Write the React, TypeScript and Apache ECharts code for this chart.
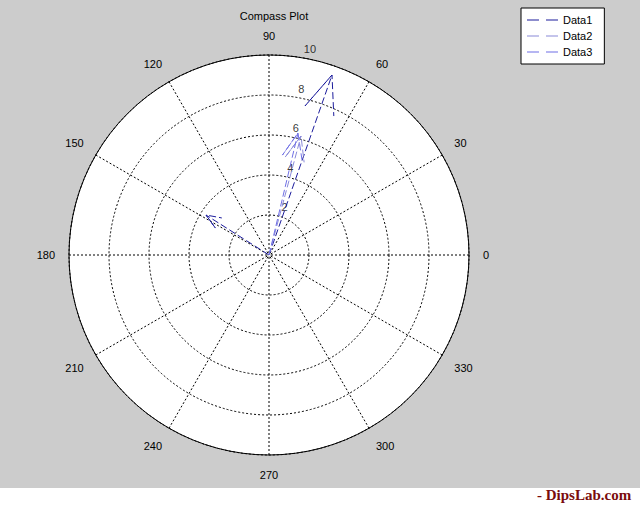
import React, { useEffect, useRef } from "react";
import * as echarts from "echarts";

// Compass vectors (real / imaginary parts)
const data1X = [3.15, -3.15];
const data1Y = [9.0, 2.0];
const data2X = [1.6];
const data2Y = [5.95];
const data3X = [1.45];
const data3Y = [6.1];

const seriesNames = ["Data1", "Data2", "Data3"];
const seriesColors = ["#1c1c9c", "#8a8ad8", "#6f6fe6"];

const angleTicks = [0, 30, 60, 90, 120, 150, 180, 210, 240, 270, 300, 330];
const radiusTicks = [2, 4, 6, 8, 10];
const radiusLabelAngle = 82;

// MATLAB compass arrow shape (relative to the vector)
const arrowShape: [number, number][] = [
  [0, 0],
  [1, 0],
  [0.8, 0.08],
  [1, 0],
  [0.8, -0.08],
];

function arrowPolar(x: number, y: number): [number, number][] {
  return arrowShape.map(([a, b]) => {
    const px = a * x - b * y;
    const py = a * y + b * x;
    const r = Math.hypot(px, py);
    const th = ((Math.atan2(py, px) * 180) / Math.PI + 360) % 360;
    return [r, th];
  });
}

export default function App() {
  const ref = useRef<HTMLDivElement>(null);
  useEffect(() => {
    if (!ref.current) return;
    const chart = echarts.init(ref.current, undefined, { renderer: "svg" });
    const font = "'Liberation Sans', Arial, sans-serif";
    const sets = [
      { xs: data1X, ys: data1Y },
      { xs: data2X, ys: data2Y },
      { xs: data3X, ys: data3Y },
    ];
    const arrowSeries: any[] = [];
    sets.forEach((s, i) => {
      s.xs.forEach((x, j) => {
        arrowSeries.push({
          type: "line",
          name: seriesNames[i],
          coordinateSystem: "polar",
          polarIndex: 0,
          symbol: "none",
          color: seriesColors[i],
          lineStyle: { color: seriesColors[i], width: 1, type: [7, 3] },
          data: arrowPolar(x, s.ys[j]),
          silent: true,
          z: 5 + i,
        });
      });
    });

    const dashIcon = "path://M0,0h12v1h-12zM19,0h12v1h-12z";

    chart.setOption({
      animation: false,
      backgroundColor: "#cccccc",
      textStyle: { fontFamily: font },
      title: {
        text: "Compass Plot",
        left: 269,
        top: 5,
        textAlign: "center",
        textStyle: { fontSize: 11, fontWeight: "normal", color: "#000", fontFamily: font },
      },
      legend: {
        data: seriesNames.map((n) => ({ name: n, icon: dashIcon })),
        orient: "vertical",
        left: 521,
        top: 8,
        padding: [6, 12, 6, 6],
        itemGap: 4,
        itemWidth: 31,
        itemHeight: 1.3,
        backgroundColor: "#ffffff",
        borderColor: "#000000",
        borderWidth: 1,
        borderRadius: 0,
        textStyle: { fontSize: 11, color: "#000", fontFamily: font, lineHeight: 12 },
      },
      polar: [
        { center: [269, 255], radius: 200 },
        { center: [269, 255], radius: 200 },
      ],
      angleAxis: [
        {
          polarIndex: 0,
          type: "value",
          min: 0,
          max: 360,
          interval: 30,
          startAngle: 0,
          clockwise: false,
          z: 3,
          axisLine: { show: true, lineStyle: { color: "#000", width: 1 } },
          axisTick: { show: false },
          axisLabel: {
            show: true,
            margin: 14,
            color: "#000",
            fontSize: 11,
            fontFamily: font,
            formatter: (v: number) => (angleTicks.includes(v) ? String(v) : ""),
          },
          splitLine: { show: true, lineStyle: { color: "#000", width: 1, type: [2, 2] } },
        },
        {
          polarIndex: 1,
          type: "value",
          min: 0,
          max: 360,
          interval: 30,
          startAngle: 0,
          clockwise: false,
          z: 0,
          silent: true,
          axisLine: { show: false },
          axisTick: { show: false },
          axisLabel: { show: false },
          splitLine: { show: false },
          splitArea: { show: true, areaStyle: { color: ["#ffffff"] } },
        },
      ],
      radiusAxis: [
        {
          polarIndex: 0,
          type: "value",
          min: 0,
          max: 10,
          interval: 2,
          z: 3,
          axisLine: { show: false },
          axisTick: { show: false },
          axisLabel: { show: false },
          splitLine: { show: true, lineStyle: { color: "#000", width: 1, type: [2, 2] } },
        },
        {
          polarIndex: 1,
          type: "value",
          min: 0,
          max: 10,
          interval: 2,
          z: 0,
          axisLine: { show: false },
          axisTick: { show: false },
          axisLabel: { show: false },
          splitLine: { show: false },
        },
      ],
      graphic: [
        { type: "rect", left: 0, top: 488, shape: { width: 640, height: 17 }, style: { fill: "#ffffff" } },
        {
          type: "text",
          left: 537,
          top: 487,
          style: {
            text: "- DipsLab.com",
            fill: "#7a0c0c",
            font: "bold 15px 'Liberation Serif', 'Times New Roman', serif",
          },
        },
      ],
      series: [
        ...arrowSeries,
        {
          type: "scatter",
          coordinateSystem: "polar",
          polarIndex: 0,
          symbolSize: 1,
          itemStyle: { color: "rgba(0,0,0,0)" },
          silent: true,
          z: 4,
          data: radiusTicks.map((r) => [r, radiusLabelAngle]),
          label: {
            show: true,
            position: "inside",
            align: "left",
            offset: [7, -8],
            color: "#000",
            fontSize: 11,
            fontFamily: font,
            formatter: (p: any) => String(p.value[0]),
          },
        },
      ],
    });
    return () => chart.dispose();
  }, []);
  return <div ref={ref} style={{ position: "fixed", left: 0, top: 0, width: 640, height: 505 }} />;
}
